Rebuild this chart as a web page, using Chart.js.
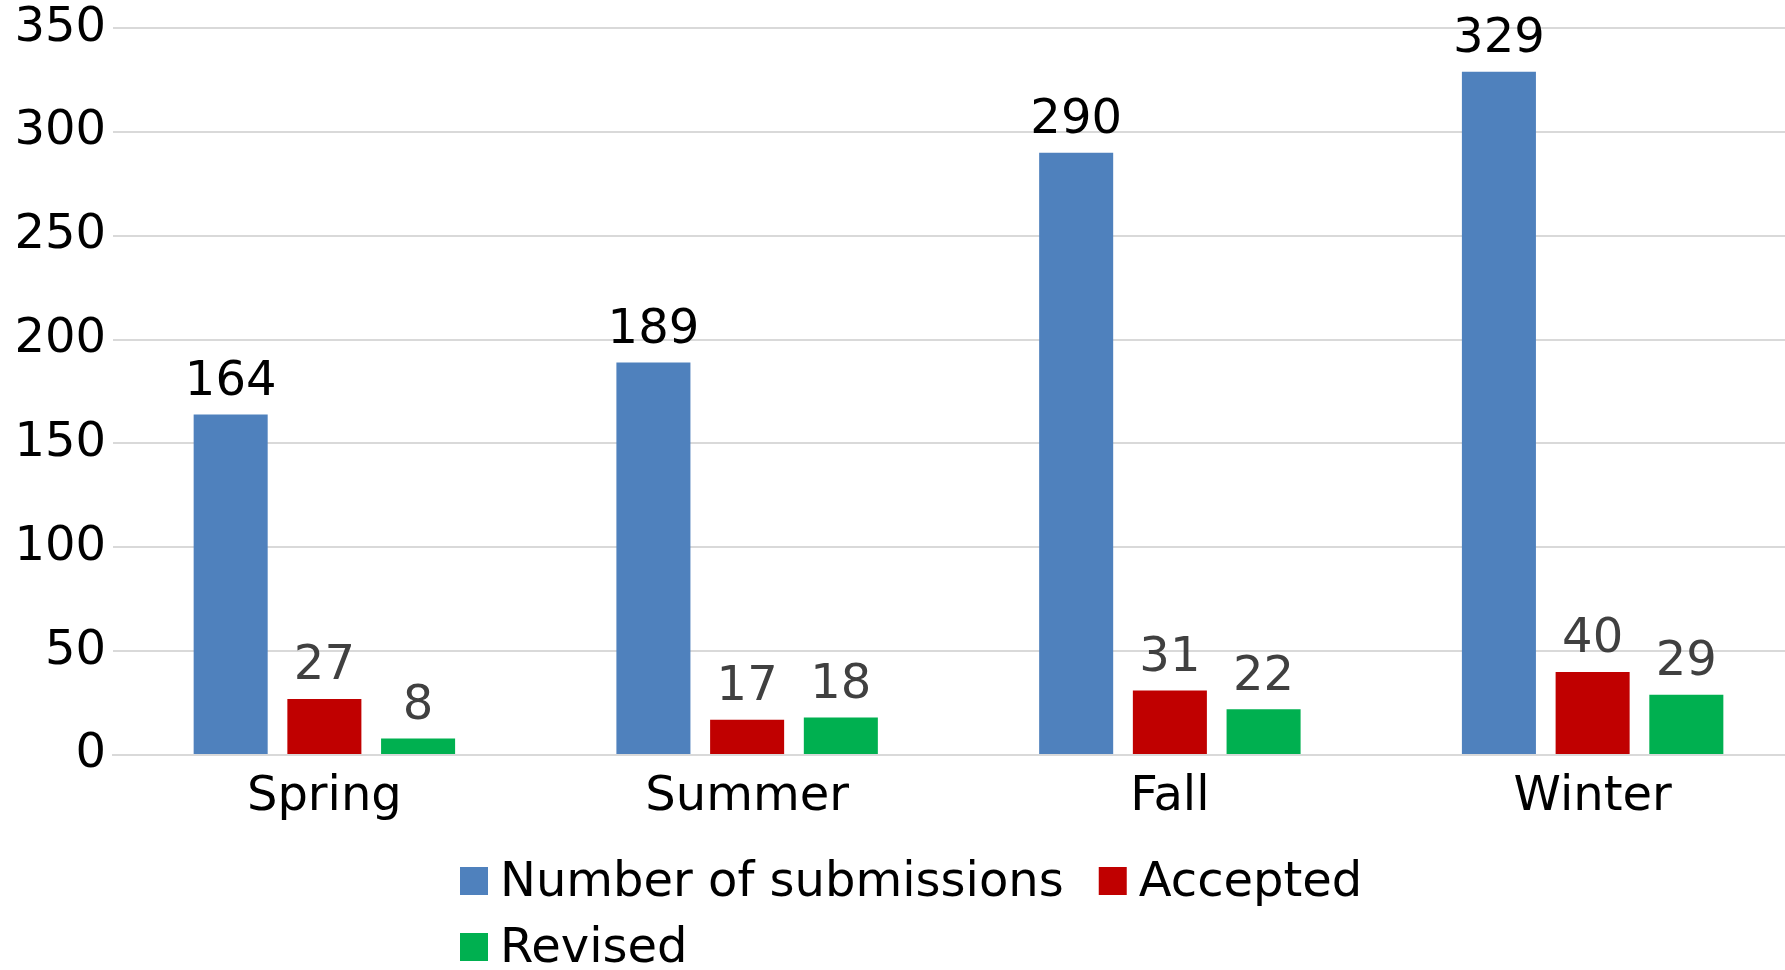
<!DOCTYPE html>
<html>
<head>
<meta charset="utf-8">
<script src="https://cdn.jsdelivr.net/npm/chart.js@4"></script>
<style>
  html, body { margin: 0; padding: 0; overflow: hidden; background: #fff; }
  #wrap { width: 1804px; height: 970px; }
</style>
</head>
<body>
<div id="wrap"><canvas id="myChart"></canvas></div>
<script>
const seasons = ['Spring', 'Summer', 'Fall', 'Winter'];
const submissions = [164, 189, 290, 329];
const accepted = [27, 17, 31, 40];
const revised = [8, 18, 22, 29];

const FONT = 'DejaVu Sans';

// value labels above each bar
const valueLabels = {
  id: 'valueLabels',
  afterDatasetsDraw(chart) {
    const ctx = chart.ctx;
    ctx.save();
    ctx.font = '48px "' + FONT + '"';
    ctx.textAlign = 'center';
    ctx.textBaseline = 'middle';
    chart.data.datasets.forEach((ds, i) => {
      ctx.fillStyle = i === 0 ? '#000000' : '#404040';
      chart.getDatasetMeta(i).data.forEach((bar, j) => {
        ctx.fillText(ds.data[j], bar.x, bar.y - 32);
      });
    });
    ctx.restore();
  }
};

// legend: first row centred, wrapped items start at same x
const bottomLegend = {
  id: 'bottomLegend',
  afterDraw(chart) {
    const ctx = chart.ctx;
    ctx.save();
    ctx.font = '48px "' + FONT + '"';
    ctx.textBaseline = 'middle';
    const startX = 460, rows = [881, 947], maxRight = 1400;
    let x = startX, row = 0;
    chart.data.datasets.forEach(ds => {
      const w = 40 + ctx.measureText(ds.label).width;
      if (x + w > maxRight && x > startX) { row++; x = startX; }
      const y = rows[row];
      ctx.fillStyle = ds.backgroundColor;
      ctx.fillRect(x, y - 14, 28, 28);
      ctx.fillStyle = '#000000';
      ctx.fillText(ds.label, x + 40, y + 3);
      x += w + 35;
    });
    ctx.restore();
  }
};

new Chart(document.getElementById('myChart'), {
  type: 'bar',
  data: {
    labels: seasons,
    datasets: [
      { label: 'Number of submissions', data: submissions, backgroundColor: '#4F81BD' },
      { label: 'Accepted', data: accepted, backgroundColor: '#C00000' },
      { label: 'Revised', data: revised, backgroundColor: '#00B050' }
    ]
  },
  options: {
    responsive: true,
    maintainAspectRatio: false,
    animation: false,
    categoryPercentage: 0.665,
    barPercentage: 0.79,
    layout: { padding: { top: 0, right: 0, bottom: 149, left: 0 } },
    plugins: {
      legend: { display: false },
      tooltip: { enabled: false }
    },
    scales: {
      x: {
        grid: { display: false },
        border: { color: '#d9d9d9', width: 2 },
        ticks: { color: '#000', padding: 6, font: { family: FONT, size: 48 } },
        afterFit(scale) { scale.height = 66; }
      },
      y: {
        min: 0,
        max: 350,
        border: { display: false },
        grid: { color: '#d9d9d9', lineWidth: 2, drawTicks: false },
        ticks: { stepSize: 50, color: '#000', padding: 7, font: { family: FONT, size: 48, lineHeight: 0.88 } },
        afterFit(scale) { scale.width = 113; }
      }
    }
  },
  plugins: [valueLabels, bottomLegend]
});
</script>
</body>
</html>
